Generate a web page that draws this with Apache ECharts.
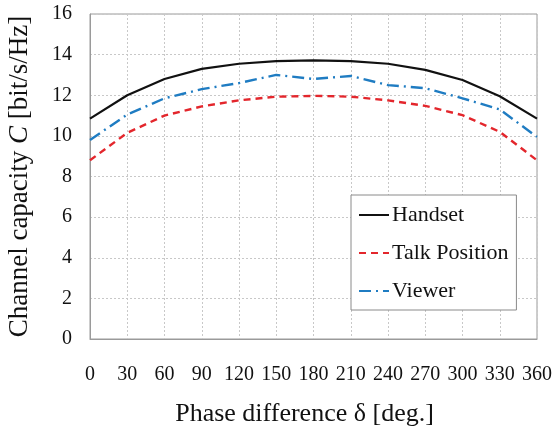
<!DOCTYPE html>
<html>
<head>
<meta charset="utf-8">
<script src="https://cdn.jsdelivr.net/npm/echarts@6/dist/echarts.min.js"></script>
<style>
  html, body { margin: 0; padding: 0; background: #fff; }
  #main { width: 555px; height: 437px; }
</style>
</head>
<body>
<div id="main"></div>
<script>
// phase difference (deg) and channel capacity values
const phase = [0, 30, 60, 90, 120, 150, 180, 210, 240, 270, 300, 330, 360];
const handset = [10.85, 12.0, 12.8, 13.3, 13.55, 13.68, 13.72, 13.68, 13.55, 13.25, 12.75, 11.95, 10.85];
const talkPosition = [8.8, 10.15, 11.0, 11.45, 11.75, 11.93, 11.97, 11.93, 11.75, 11.48, 11.02, 10.2, 8.8];
const viewer = [9.8, 11.05, 11.85, 12.3, 12.6, 13.0, 12.8, 12.95, 12.5, 12.35, 11.85, 11.3, 9.95];

const serif = "Liberation Serif";

function pairs(ys) {
  return phase.map((x, i) => [x, ys[i]]);
}

const chart = echarts.init(document.getElementById("main"));
chart.setOption({
  animation: false,
  grid: {
    left: 90,
    top: 14,
    right: 18,
    bottom: 98,
    outerBoundsMode: "none",
    show: true,
    borderColor: "#9a9a9a",
    borderWidth: 1
  },
  legend: {
    orient: "vertical",
    left: 351,
    top: 195,
    width: 163,
    height: 116,
    padding: [9, 8, 8, 7],
    itemGap: 16,
    itemWidth: 30,
    itemHeight: 22,
    backgroundColor: "#fff",
    borderColor: "#8a8a8a",
    borderWidth: 1,
    itemStyle: { opacity: 0 },
    textStyle: { fontFamily: serif, fontSize: 22, color: "#111", padding: [0, 0, 0, -2] },
    data: ["Handset", "Talk Position", "Viewer"]
  },
  xAxis: {
    type: "value",
    min: 0,
    max: 360,
    interval: 30,
    name: "Phase difference δ [deg.]",
    nameLocation: "middle",
    nameGap: 62,
    nameTextStyle: { fontFamily: serif, fontSize: 26, color: "#111", padding: [0, 18, 0, 0] },
    axisLine: { lineStyle: { color: "#9a9a9a" } },
    axisTick: { show: false },
    axisLabel: { fontFamily: serif, fontSize: 20, color: "#111", margin: 26 },
    splitLine: { lineStyle: { color: "#c8c8c8", type: [2, 2] } }
  },
  yAxis: {
    type: "value",
    min: 0,
    max: 16,
    interval: 2,
    name: "{n|Channel capacity }{i|C}{n| [bit/s/Hz]}",
    nameLocation: "middle",
    nameGap: 57,
    nameTextStyle: {
      rich: {
        n: { fontFamily: serif, fontSize: 27, color: "#111" },
        i: { fontFamily: serif, fontSize: 27, color: "#111", fontStyle: "italic" }
      }
    },
    axisLine: { show: true, lineStyle: { color: "#9a9a9a" } },
    axisTick: { show: false },
    axisLabel: { fontFamily: serif, fontSize: 20, color: "#111", margin: 18 },
    splitLine: { lineStyle: { color: "#c8c8c8", type: [2, 2] } }
  },
  series: [
    {
      name: "Handset",
      type: "line",
      symbol: "none",
      data: pairs(handset),
      itemStyle: { color: "#111" },
      lineStyle: { color: "#111", width: 2.2, type: "solid" }
    },
    {
      name: "Talk Position",
      type: "line",
      symbol: "none",
      data: pairs(talkPosition),
      itemStyle: { color: "#e3262c" },
      lineStyle: { color: "#e3262c", width: 2.4, type: [7, 5] }
    },
    {
      name: "Viewer",
      type: "line",
      symbol: "none",
      data: pairs(viewer),
      itemStyle: { color: "#1f7cc2" },
      lineStyle: { color: "#1f7cc2", width: 2.4, type: [12, 5, 2, 5] }
    }
  ]
});
</script>
</body>
</html>
